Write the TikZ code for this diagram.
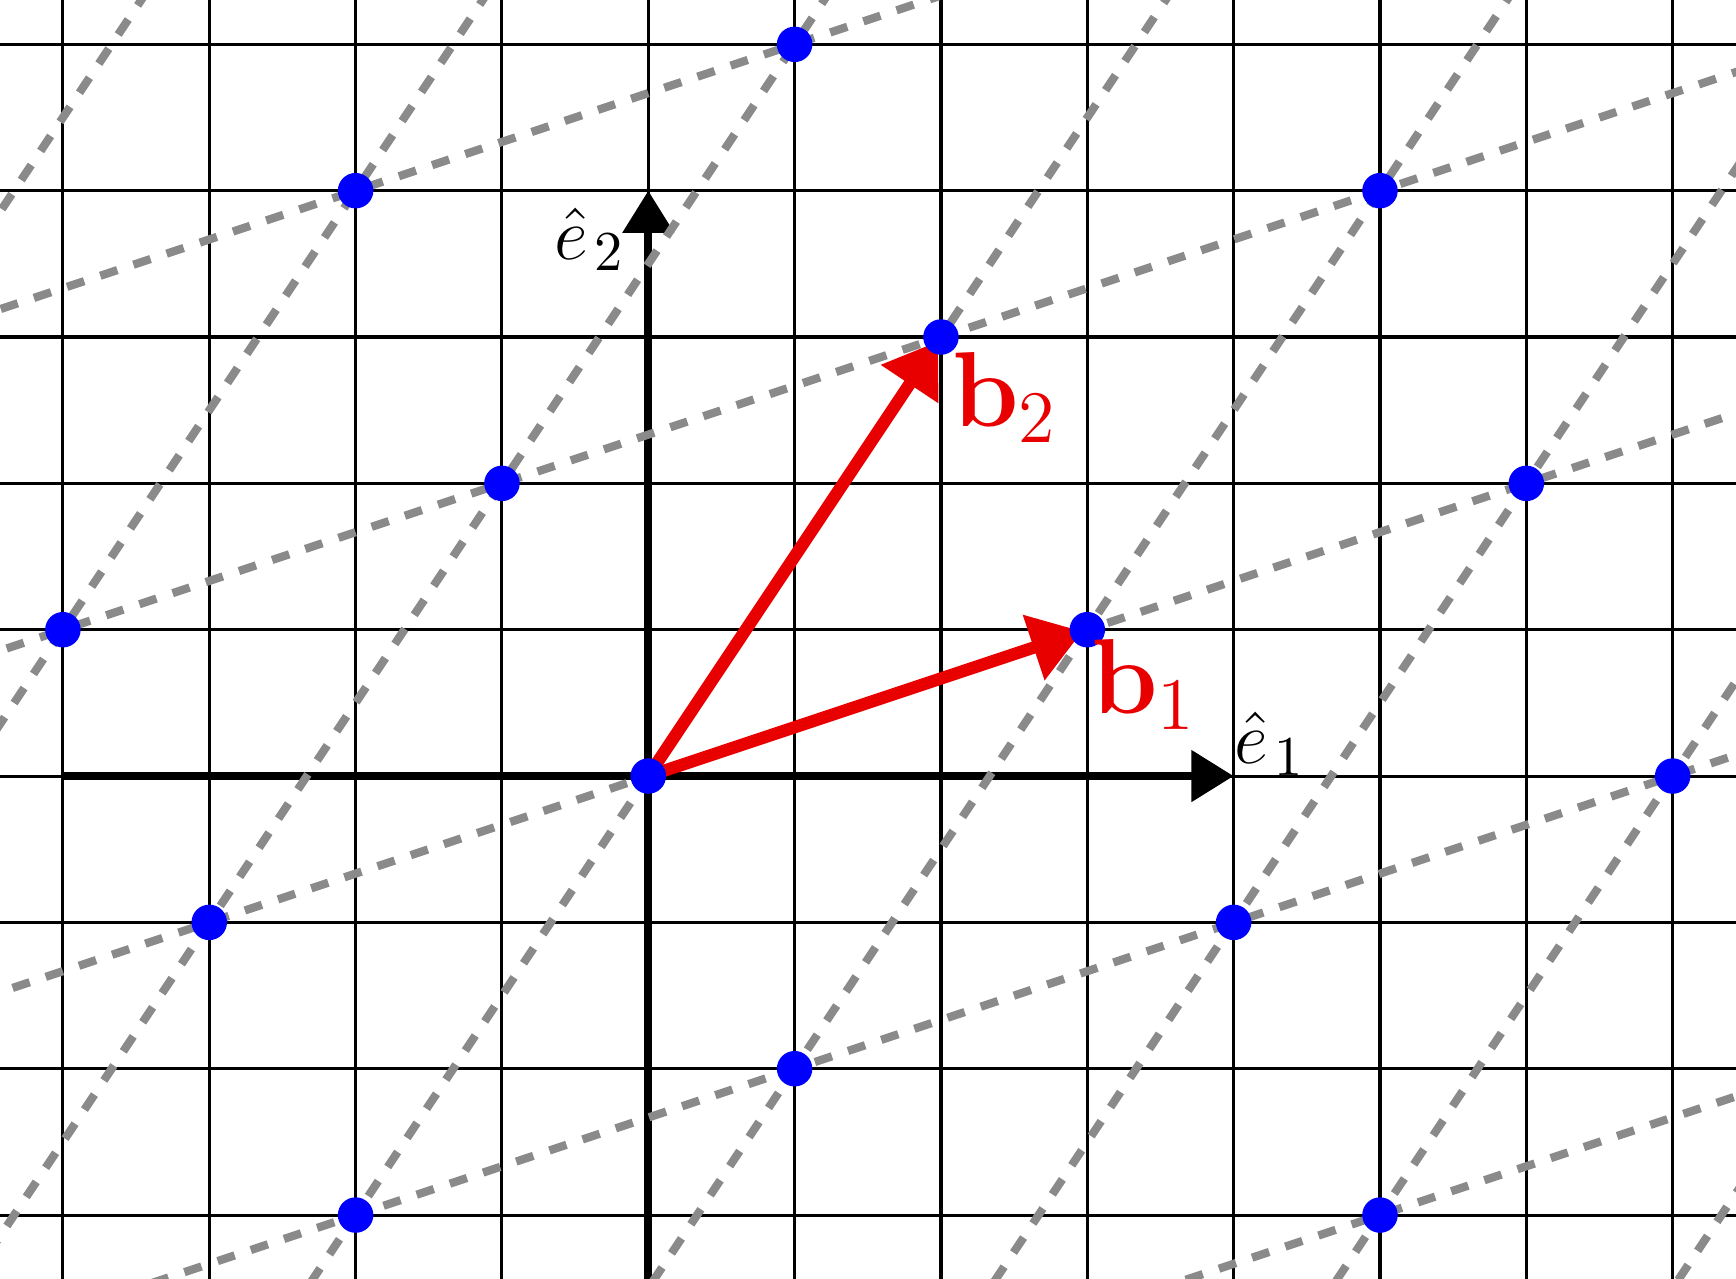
\documentclass[tikz,border=0pt]{standalone}
\usetikzlibrary{arrows.meta}
\definecolor{latred}{RGB}{232,0,0}
\definecolor{dashgray}{RGB}{138,138,138}
\definecolor{dotblue}{RGB}{0,0,255}
\begin{document}
\begin{tikzpicture}[
  gridline/.style={line width=0.6pt, black},
  axisline/.style={line width=1.6pt, black, -{Triangle[length=8.2pt,width=9.7pt]}},
  latline/.style={line width=1.6pt, dashgray, dash pattern=on 3.5pt off 3.3pt},
  basisvec/.style={line width=2.4pt, latred, -{Triangle[length=10pt,width=12.8pt]}, shorten >=1pt},
  latdot/.style={circle, fill=dotblue, inner sep=0pt, minimum size=6.9pt},
  axislabel/.style={inner sep=0pt, font=\fontsize{15}{18}\selectfont},
  veclabel/.style={inner sep=0pt, font=\huge, text=latred}
]
\useasboundingbox (-4.430,-3.431) rectangle (7.433,5.303);
\clip (-4.430,-3.431) rectangle (7.433,5.303);
% grid
\draw[gridline] (-5,-4) grid (8,6);
% axes
\coordinate (xs) at (-4,0);
\coordinate (xe) at (4,0);
\coordinate (ys) at (0,-4);
\coordinate (ye) at (0,4);
\draw[axisline] (xs) -- (xe);
\draw[axisline] (ys) -- (ye);
% lattice lines along b1
\foreach \n in {-3,...,3} {
  \coordinate (la\n) at ({2*\n-15},{3*\n-5});
  \coordinate (lb\n) at ({2*\n+15},{3*\n+5});
  \draw[latline] (la\n) -- (lb\n);
}
% lattice lines along b2
\foreach \m in {-4,...,5} {
  \coordinate (ma\m) at ({3*\m-10},{\m-15});
  \coordinate (mb\m) at ({3*\m+10},{\m+15});
  \draw[latline] (ma\m) -- (mb\m);
}
% basis vectors
\coordinate (O) at (0,0);
\coordinate (B1) at (3,1);
\coordinate (B2) at (2,3);
\draw[basisvec] (O) -- (B1);
\draw[basisvec] (O) -- (B2);
% lattice points
\foreach \x/\y [count=\i] in {0/0,3/1,2/3,5/4,-1/2,-4/1,-2/4,1/5,6/2,7/0,4/-1,5/-3,1/-2,-2/-3,-3/-1} {
  \node[latdot] (p\i) at (\x,\y) {};
}
% labels
\node[axislabel, anchor=south west] (e1lab) at (4.0,0) {$\hat{e}_{\mkern2mu 1}$};
\node[axislabel, anchor=north east] (e2lab) at (-0.15,3.89) {$\hat{e}_{\mkern2mu 2}$};
\node[veclabel, anchor=north west] (b1lab) at (3.02,0.94) {$\mathbf{b}_1$};
\node[veclabel, anchor=north west] (b2lab) at (2.07,2.90) {$\mathbf{b}_2$};
\end{tikzpicture}
\end{document}
